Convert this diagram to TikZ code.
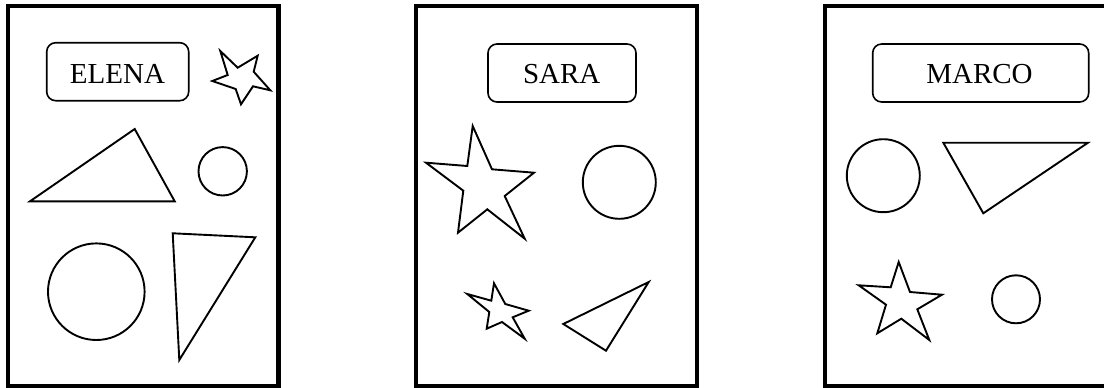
\documentclass[tikz,border=0pt]{standalone}
\usepackage{fontspec}
\setmainfont{Liberation Serif}
\begin{document}
\begin{tikzpicture}[x=1pt,y=-1pt,
  panel/.style={line width=4.4pt},
  figline/.style={line width=1.9pt, line join=miter},
  namebox/.style={draw, line width=1.6pt, rounded corners=9pt, inner sep=0pt},
  nametext/.style={anchor=base, inner sep=0pt, font=\fontsize{29}{35}\selectfont}]
\useasboundingbox (0,0) rectangle (1104,388);
\fill[white] (0,0) rectangle (1104,388);
% panels
\draw[panel] (8,6) rectangle (278.5,386.5);
\draw[panel] (416,6) rectangle (697,386.5);
\draw[panel] (825,5.7) rectangle (1130,386.5);
% name boxes
\node[namebox, minimum width=142pt, minimum height=58pt] (elena) at (117.7,71.7) {};
\node[nametext] (elenat) at (117.5,83.5) {ELENA};
\node[namebox, minimum width=148pt, minimum height=58pt] (sara) at (562,73) {};
\node[nametext] (sarat) at (561.7,83.8) {SARA};
\node[namebox, minimum width=216pt, minimum height=58pt] (marco) at (980.7,73) {};
\node[nametext] (marcot) at (979.5,83.8) {MARCO};
% ELENA shapes
\draw[figline] (220.3,51) -- (237.7,67.7) -- (257.7,55.7) -- (253.7,71.7) -- (270.3,90.3)
  -- (253,86.3) -- (241,104.3) -- (235.7,89) -- (212.3,81) -- (227.7,75) -- cycle;
\draw[figline] (30,201.3) -- (134.7,129) -- (174.7,201.3) -- cycle;
\draw[figline] (222.7,171.3) circle[radius=24.2];
\draw[figline] (96.3,291.7) circle[radius=48.3];
\draw[figline] (172.7,233.3) -- (255.3,237.3) -- (179.3,360) -- cycle;
% SARA shapes
\draw[figline] (472.7,126) -- (492,169.3) -- (534,172.7) -- (504.7,196) -- (524.7,238.7)
  -- (487.3,209.3) -- (458,232.7) -- (463.3,190.7) -- (426,162.7) -- (467.3,166) -- cycle;
\draw[figline] (619.3,182.3) circle[radius=36.5];
\draw[figline] (494,283.3) -- (505.3,304) -- (528.7,310.7) -- (512.7,317.3) -- (524.7,338.7)
  -- (502,322) -- (486.7,328.7) -- (489.3,312) -- (467.3,294) -- (491.3,300.7) -- cycle;
\draw[figline] (563.3,324) -- (648.7,282) -- (606,350.7) -- cycle;
% MARCO shapes
\draw[figline] (883.3,175.7) circle[radius=36.5];
\draw[figline] (943.3,142.7) -- (1088,142.7) -- (983.3,213.3) -- cycle;
\draw[figline] (898.7,262) -- (910,292) -- (942,294.7) -- (917.3,309.3) -- (929.3,340)
  -- (901.3,318.7) -- (877.3,333.3) -- (886,304.7) -- (858.7,285.3) -- (890.7,287.3) -- cycle;
\draw[figline] (1016,299.3) circle[radius=24];
\end{tikzpicture}
\end{document}
